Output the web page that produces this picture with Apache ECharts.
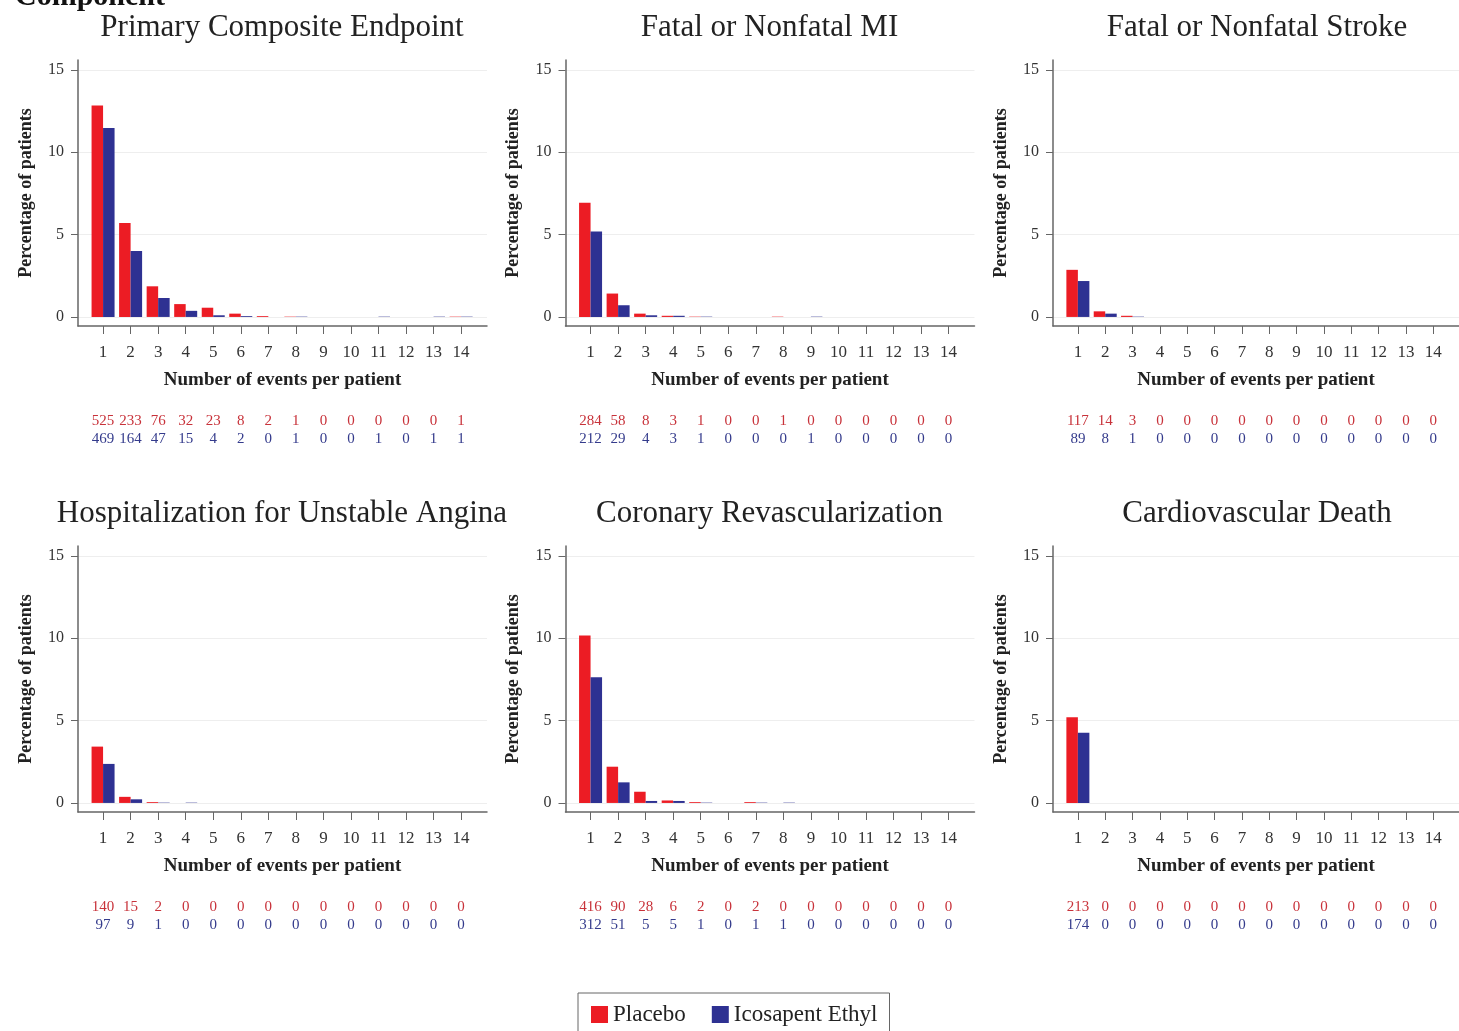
<!DOCTYPE html>
<html>
<head>
<meta charset="utf-8">
<script src="https://cdn.jsdelivr.net/npm/echarts@6/dist/echarts.min.js"></script>
<style>
  html, body { margin: 0; padding: 0; background: #fff; }
  #main { width: 1459px; height: 1031px; }
</style>
</head>
<body>
<div id="main"></div>
<script>
// x categories: number of events per patient
const eventNums = [1, 2, 3, 4, 5, 6, 7, 8, 9, 10, 11, 12, 13, 14];
const yTicks = [0, 5, 10, 15];

const titles = [
  "Primary Composite Endpoint",
  "Fatal or Nonfatal MI",
  "Fatal or Nonfatal Stroke",
  "Hospitalization for Unstable Angina",
  "Coronary Revascularization",
  "Cardiovascular Death",
];

// percentage of patients (bar heights)
const placeboPctPrimary = [12.84, 5.70, 1.86, 0.78, 0.56, 0.20, 0.05, 0.02, 0, 0, 0, 0, 0, 0.02];
const icosaPctPrimary   = [11.47, 4.01, 1.15, 0.37, 0.10, 0.05, 0, 0.02, 0, 0, 0.02, 0, 0.02, 0.02];
const placeboPctMI      = [6.94, 1.42, 0.20, 0.07, 0.02, 0, 0, 0.02, 0, 0, 0, 0, 0, 0];
const icosaPctMI        = [5.18, 0.71, 0.10, 0.07, 0.02, 0, 0, 0, 0.02, 0, 0, 0, 0, 0];
const placeboPctStroke  = [2.86, 0.34, 0.07, 0, 0, 0, 0, 0, 0, 0, 0, 0, 0, 0];
const icosaPctStroke    = [2.18, 0.20, 0.02, 0, 0, 0, 0, 0, 0, 0, 0, 0, 0, 0];
const placeboPctUA      = [3.42, 0.37, 0.05, 0, 0, 0, 0, 0, 0, 0, 0, 0, 0, 0];
const icosaPctUA        = [2.37, 0.22, 0.02, 0.02, 0, 0, 0, 0, 0, 0, 0, 0, 0, 0];
const placeboPctRevasc  = [10.17, 2.20, 0.68, 0.15, 0.05, 0, 0.05, 0, 0, 0, 0, 0, 0, 0];
const icosaPctRevasc    = [7.63, 1.25, 0.12, 0.12, 0.02, 0, 0.02, 0.02, 0, 0, 0, 0, 0, 0];
const placeboPctDeath   = [5.21, 0, 0, 0, 0, 0, 0, 0, 0, 0, 0, 0, 0, 0];
const icosaPctDeath     = [4.26, 0, 0, 0, 0, 0, 0, 0, 0, 0, 0, 0, 0, 0];

// number of patients (rows under each panel)
const placeboNPrimary = [525, 233, 76, 32, 23, 8, 2, 1, 0, 0, 0, 0, 0, 1];
const icosaNPrimary   = [469, 164, 47, 15, 4, 2, 0, 1, 0, 0, 1, 0, 1, 1];
const placeboNMI      = [284, 58, 8, 3, 1, 0, 0, 1, 0, 0, 0, 0, 0, 0];
const icosaNMI        = [212, 29, 4, 3, 1, 0, 0, 0, 1, 0, 0, 0, 0, 0];
const placeboNStroke  = [117, 14, 3, 0, 0, 0, 0, 0, 0, 0, 0, 0, 0, 0];
const icosaNStroke    = [89, 8, 1, 0, 0, 0, 0, 0, 0, 0, 0, 0, 0, 0];
const placeboNUA      = [140, 15, 2, 0, 0, 0, 0, 0, 0, 0, 0, 0, 0, 0];
const icosaNUA        = [97, 9, 1, 0, 0, 0, 0, 0, 0, 0, 0, 0, 0, 0];
const placeboNRevasc  = [416, 90, 28, 6, 2, 0, 2, 0, 0, 0, 0, 0, 0, 0];
const icosaNRevasc    = [312, 51, 5, 5, 1, 0, 1, 1, 0, 0, 0, 0, 0, 0];
const placeboNDeath   = [213, 0, 0, 0, 0, 0, 0, 0, 0, 0, 0, 0, 0, 0];
const icosaNDeath     = [174, 0, 0, 0, 0, 0, 0, 0, 0, 0, 0, 0, 0, 0];

const panels = [
  [placeboPctPrimary, icosaPctPrimary, placeboNPrimary, icosaNPrimary],
  [placeboPctMI, icosaPctMI, placeboNMI, icosaNMI],
  [placeboPctStroke, icosaPctStroke, placeboNStroke, icosaNStroke],
  [placeboPctUA, icosaPctUA, placeboNUA, icosaNUA],
  [placeboPctRevasc, icosaPctRevasc, placeboNRevasc, icosaNRevasc],
  [placeboPctDeath, icosaPctDeath, placeboNDeath, icosaNDeath],
];

const FONT = "Liberation Serif";
const RED = "#ec1c24";
const BLUE = "#2e3192";
const AXIS = "#666";

let myChart = echarts.init(document.getElementById("main"));

let grids = [], xAxes = [], yAxes = [], series = [];
let graphics = [
  {
    type: "text", x: 15, y: -18,
    style: { text: "Component", font: "bold 30px " + FONT, fill: "#111" },
  },
];

panels.forEach((p, k) => {
  let col = k % 3, row = Math.floor(k / 3);
  let left = 78 + col * 487.5;
  let top = 60 + row * 486;
  grids.push({ left: left, top: top, width: 409, height: 266 });

  // panel title
  graphics.push({
    type: "text", x: left + 204, y: top - 32,
    style: { text: titles[k], font: "31px " + FONT, fill: "#222", align: "center", verticalAlign: "middle" },
  });

  let xBase = {
    gridIndex: k,
    type: "value",
    min: 0.09,
    max: 14.94,
    splitLine: { show: false },
  };
  // main x axis
  xAxes.push(Object.assign({}, xBase, {
    axisLine: { onZero: false, lineStyle: { color: AXIS, width: 1.5 } },
    axisTick: { customValues: eventNums, length: 8, lineStyle: { color: AXIS } },
    axisLabel: { customValues: eventNums, margin: 18, fontSize: 17, color: "#333", fontFamily: FONT },
    name: "Number of events per patient",
    nameLocation: "middle",
    nameGap: 45,
    nameTextStyle: { fontWeight: "bold", fontSize: 19, color: "#222", fontFamily: FONT },
  }));
  // count rows
  [[p[2], "#c8323a", 88], [p[3], "#343b8c", 106]].forEach(([counts, color, off]) => {
    xAxes.push(Object.assign({}, xBase, {
      position: "bottom",
      offset: off,
      axisLine: { show: false },
      axisTick: { show: false },
      axisLabel: {
        customValues: eventNums,
        margin: 0,
        fontSize: 15,
        color: color,
        fontFamily: FONT,
        formatter: (v) => String(counts[Math.round(v) - 1]),
      },
    }));
  });

  yAxes.push({
    gridIndex: k,
    type: "value",
    min: -0.55,
    max: 15.6,
    axisLine: { show: true, lineStyle: { color: AXIS, width: 1.5 } },
    axisTick: { show: true, customValues: yTicks, length: 7, lineStyle: { color: AXIS } },
    axisLabel: { customValues: yTicks, margin: 14, fontSize: 16, color: "#333", fontFamily: FONT },
    splitLine: { show: false },
    name: "Percentage of patients",
    nameLocation: "middle",
    nameGap: 43,
    nameTextStyle: { fontWeight: "bold", fontSize: 18, color: "#222", fontFamily: FONT },
  });

  let xIdx = k * 3;
  // faint horizontal grid lines, kept under the bars
  series.push({
    name: "grid",
    type: "line",
    xAxisIndex: xIdx,
    yAxisIndex: k,
    z: 0,
    data: [],
    markLine: {
      z: 0,
      silent: true,
      symbol: ["none", "none"],
      label: { show: false },
      lineStyle: { color: "#eeeeee", width: 1, type: "solid" },
      data: yTicks.map((t) => ({ yAxis: t })),
    },
  });
  series.push({
    name: "Placebo",
    type: "bar",
    xAxisIndex: xIdx,
    yAxisIndex: k,
    z: 3,
    barWidth: 11.5,
    barGap: "0%",
    itemStyle: { color: RED },
    data: eventNums.map((n, i) => [n, p[0][i]]),
  });
  series.push({
    name: "Icosapent Ethyl",
    type: "bar",
    xAxisIndex: xIdx,
    yAxisIndex: k,
    z: 3,
    barWidth: 11.5,
    barGap: "0%",
    itemStyle: { color: BLUE },
    data: eventNums.map((n, i) => [n, p[1][i]]),
  });
});

myChart.setOption({
  animation: false,
  backgroundColor: "#fff",
  textStyle: { fontFamily: FONT },
  legend: {
    data: ["Placebo", "Icosapent Ethyl"],
    left: 578,
    top: 993,
    icon: "rect",
    itemWidth: 17,
    itemHeight: 17,
    itemGap: 26,
    borderColor: "#666",
    borderWidth: 1,
    borderRadius: 0,
    padding: [10, 12, 14, 13],
    textStyle: { fontSize: 23, color: "#222", fontFamily: FONT },
  },
  grid: grids,
  xAxis: xAxes,
  yAxis: yAxes,
  series: series,
  graphic: graphics,
});
</script>
</body>
</html>
